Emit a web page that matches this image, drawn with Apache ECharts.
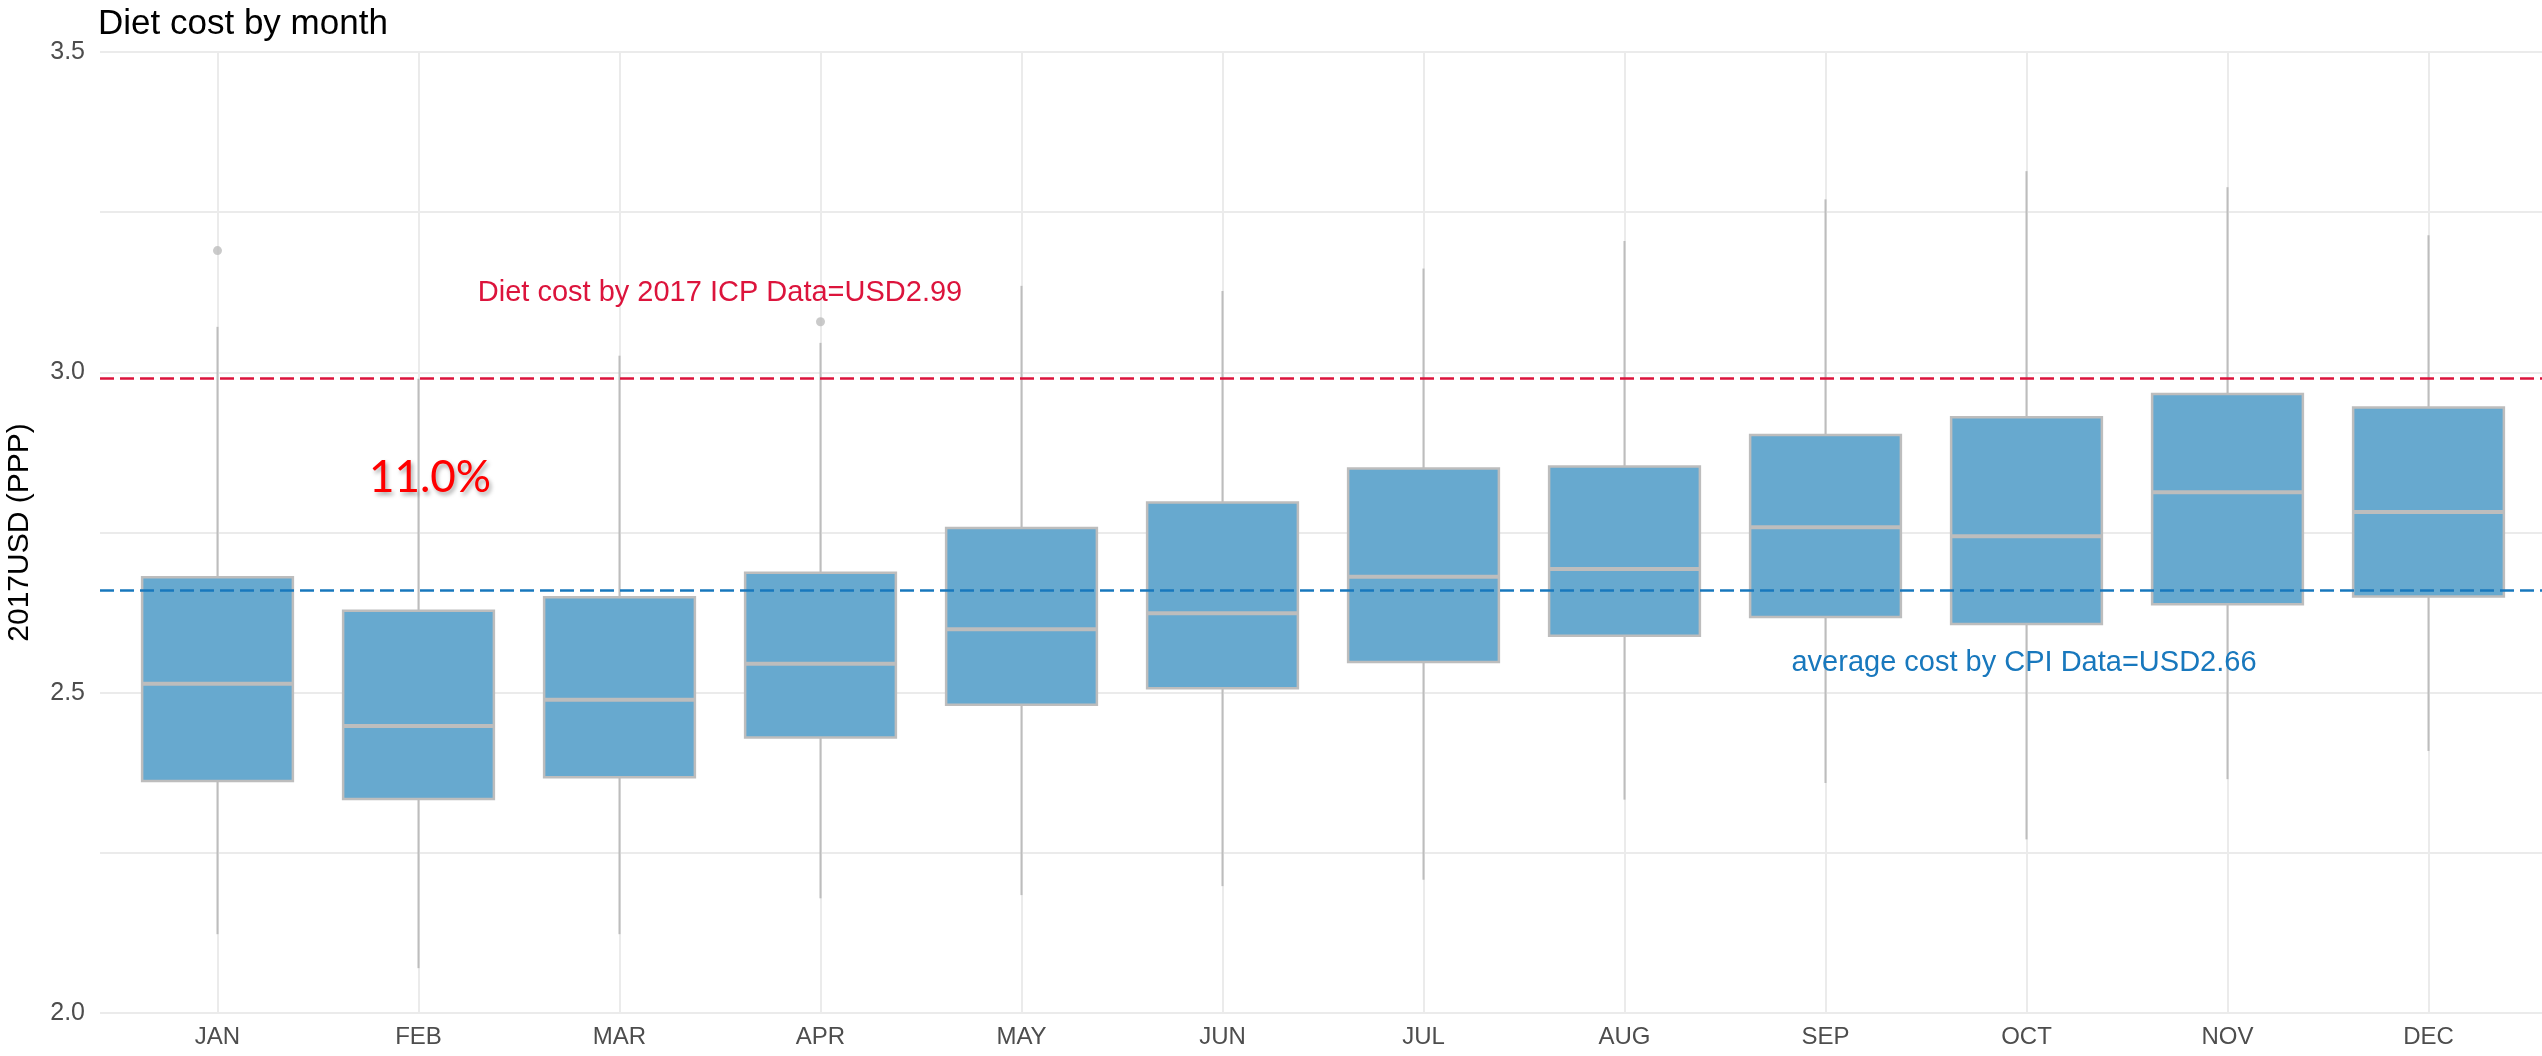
<!DOCTYPE html>
<html>
<head>
<meta charset="utf-8">
<title>Diet cost by month</title>
<script src="https://cdn.jsdelivr.net/npm/echarts@6/dist/echarts.min.js"></script>
<style>
  html, body { margin: 0; padding: 0; background: #fff; }
  #main { width: 2542px; height: 1056px; }
</style>
</head>
<body>
<div id="main"></div>
<script>
// values
const months = ['JAN', 'FEB', 'MAR', 'APR', 'MAY', 'JUN', 'JUL', 'AUG', 'SEP', 'OCT', 'NOV', 'DEC'];
const whiskerLow = [2.123, 2.070, 2.123, 2.179, 2.184, 2.198, 2.208, 2.333, 2.359, 2.271, 2.365, 2.409];
const q1 = [2.362, 2.334, 2.368, 2.430, 2.481, 2.507, 2.548, 2.589, 2.618, 2.607, 2.638, 2.650];
const median = [2.514, 2.448, 2.489, 2.545, 2.599, 2.624, 2.681, 2.693, 2.758, 2.744, 2.813, 2.782];
const q3 = [2.680, 2.628, 2.649, 2.687, 2.757, 2.797, 2.850, 2.853, 2.902, 2.930, 2.966, 2.945];
const whiskerHigh = [3.071, 2.990, 3.026, 3.046, 3.135, 3.127, 3.162, 3.205, 3.270, 3.314, 3.289, 3.214];
const outliers = [['JAN', 3.190], ['APR', 3.079]];
const icpCost = 2.99;
const cpiCost = 2.66;
const yTicks = [2.0, 2.5, 3.0, 3.5];

const grey = '#bdbdbd';
const boxFill = '#67a9cf';
const red = '#dc143c';
const blue = '#1878bd';
const font = 'Liberation Sans, Arial, sans-serif';

const chart = echarts.init(document.getElementById('main'));

const boxData = months.map((m, i) => [i, whiskerLow[i], q1[i], median[i], q3[i], whiskerHigh[i]]);

const option = {
  backgroundColor: '#fff',
  animation: false,
  title: {
    text: 'Diet cost by month',
    left: 98,
    top: 7,
    padding: 0,
    textStyle: { fontFamily: font, fontSize: 35, fontWeight: 'normal', color: '#000' }
  },
  grid: [
    { left: 117, right: 13, top: 52, bottom: 43, outerBoundsMode: 'none', containLabel: false },
    // background grid, only for the full-width horizontal grid lines
    { left: 100, right: 0, top: 52, bottom: 43, outerBoundsMode: 'none', containLabel: false }
  ],
  xAxis: [
    {
      type: 'category',
      gridIndex: 0,
      data: months,
      axisLine: { show: false },
      axisTick: {
        show: true,
        alignWithLabel: true,
        inside: true,
        length: 961,
        lineStyle: { color: '#ebebeb', width: 2 }
      },
      axisLabel: { fontFamily: font, fontSize: 24, color: '#4d4d4d', margin: 12 },
      splitLine: { show: false }
    },
    { type: 'value', gridIndex: 1, min: 0, max: 1, show: false }
  ],
  yAxis: [
    {
      type: 'value',
      gridIndex: 0,
      min: 2,
      max: 3.5,
      interval: 0.5,
      name: '2017USD (PPP)',
      nameLocation: 'middle',
      nameGap: 82,
      nameRotate: 90,
      nameTextStyle: { fontFamily: font, fontSize: 30, color: '#000' },
      axisLine: { show: false },
      axisTick: { show: false },
      axisLabel: {
        fontFamily: font, fontSize: 25, color: '#4d4d4d', margin: 32,
        formatter: v => yTicks.includes(v) ? v.toFixed(1) : ''
      },
      splitLine: { show: false }
    },
    {
      type: 'value',
      gridIndex: 1,
      min: 2,
      max: 3.5,
      interval: 0.25,
      axisLine: { show: false },
      axisTick: { show: false },
      axisLabel: { show: false },
      splitLine: { show: true, lineStyle: { color: '#ebebeb', width: 2 } }
    }
  ],
  series: [
    {
      // reference lines across the whole panel
      type: 'line',
      xAxisIndex: 1,
      yAxisIndex: 1,
      data: [],
      markLine: {
        silent: true,
        symbol: 'none',
        label: { show: false },
        data: [
          { yAxis: icpCost, lineStyle: { color: red, width: 2.5, type: [14, 6] } },
          { yAxis: cpiCost, lineStyle: { color: blue, width: 2.5, type: [14, 6] } }
        ]
      }
    },
    {
      type: 'custom',
      xAxisIndex: 0,
      yAxisIndex: 0,
      data: boxData,
      z: 3,
      renderItem: function (params, api) {
        const x = api.value(0);
        const pLow = api.coord([x, api.value(1)]);
        const pQ1 = api.coord([x, api.value(2)]);
        const pMed = api.coord([x, api.value(3)]);
        const pQ3 = api.coord([x, api.value(4)]);
        const pHigh = api.coord([x, api.value(5)]);
        const w = api.size([1, 0])[0] * 0.75;
        const cx = pMed[0];
        return {
          type: 'group',
          children: [
            { type: 'line', shape: { x1: cx, y1: pHigh[1], x2: cx, y2: pQ3[1] }, style: { stroke: grey, lineWidth: 2 } },
            { type: 'line', shape: { x1: cx, y1: pQ1[1], x2: cx, y2: pLow[1] }, style: { stroke: grey, lineWidth: 2 } },
            { type: 'rect', shape: { x: cx - w / 2, y: pQ3[1], width: w, height: pQ1[1] - pQ3[1] }, style: { fill: boxFill, stroke: grey, lineWidth: 2.5 } },
            { type: 'line', shape: { x1: cx - w / 2, y1: pMed[1], x2: cx + w / 2, y2: pMed[1] }, style: { stroke: grey, lineWidth: 4 } }
          ]
        };
      }
    },
    {
      type: 'scatter',
      xAxisIndex: 0,
      yAxisIndex: 0,
      data: outliers,
      symbolSize: 9,
      itemStyle: { color: grey },
      z: 3
    }
  ],
  graphic: [
    {
      type: 'text',
      x: 720, y: 293,
      style: {
        text: 'Diet cost by 2017 ICP Data=USD2.99',
        fontFamily: font, fontSize: 29, fill: red,
        align: 'center', verticalAlign: 'middle'
      },
      z: 10
    },
    {
      type: 'text',
      x: 2024, y: 663,
      style: {
        text: 'average cost by CPI Data=USD2.66',
        fontFamily: font, fontSize: 29, fill: blue,
        align: 'center', verticalAlign: 'middle'
      },
      z: 10
    },
    {
      type: 'text',
      x: 430, y: 478,
      style: {
        text: '11.0%',
        fontFamily: 'Lato, Open Sans, sans-serif', fontSize: 44, fill: '#ff0000',
        align: 'center', verticalAlign: 'middle',
        textShadowColor: 'rgba(0,0,0,0.35)', textShadowBlur: 4,
        textShadowOffsetX: 2, textShadowOffsetY: 3
      },
      z: 10
    }
  ]
};

chart.setOption(option);
</script>
</body>
</html>
